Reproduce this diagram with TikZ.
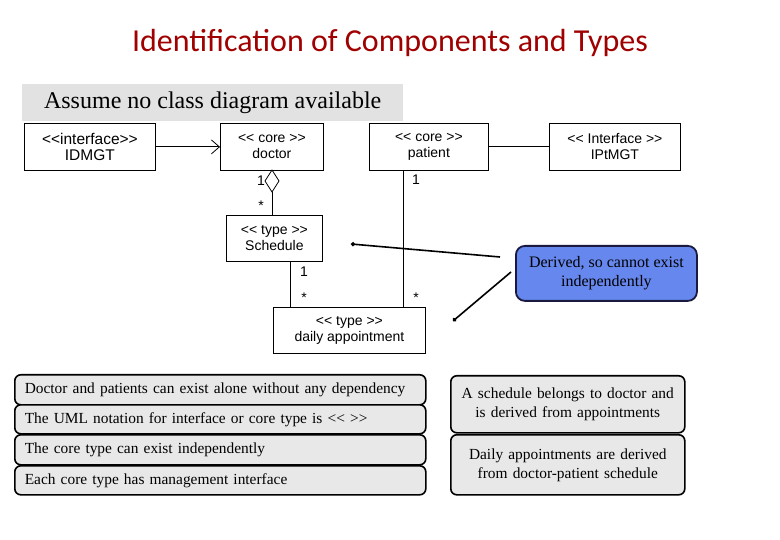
\documentclass[tikz,border=0pt]{standalone}
\usepackage{fontspec}
\setmainfont{Liberation Serif}
\newfontfamily\umlfont{Liberation Sans}
\newfontfamily\titlefont{Carlito}
\usetikzlibrary{arrows.meta,calc}
\definecolor{titlered}{HTML}{A00000}
\definecolor{calloutblue}{HTML}{6688EE}
\definecolor{navy}{HTML}{1A1A40}
\definecolor{notegray}{HTML}{E8E8E8}
\definecolor{bannergray}{HTML}{E2E2E2}
\begin{document}
\begin{tikzpicture}[x=1pt,y=-1pt,
  uml/.style={draw, line width=0.8pt, fill=white, font=\umlfont\fontsize{14}{16}\selectfont, align=center, inner sep=0pt, anchor=north west},
  mult/.style={font=\umlfont\fontsize{14}{15}\selectfont, inner sep=0pt},
  note/.style={draw, line width=1.6pt, rounded corners=6pt, fill=notegray, font=\fontsize{15.4}{19}\selectfont, inner ysep=0pt, anchor=north west},
  leftnote/.style={note, text width=391pt, inner xsep=10pt, align=left},
  rightnote/.style={note, text width=224pt, inner xsep=5pt, align=center},
  conn/.style={line width=0.8pt},
  pointer/.style={line width=1.6pt, -{Circle[length=4pt]}}]
\useasboundingbox (0,0) rectangle (780,540);
\fill[white] (0,0) rectangle (780,540);

% title and banner
\node[font=\titlefont\fontsize{32}{36}\selectfont, text=titlered] (title) at (390,43) {Identification of Components and Types};
\node[fill=bannergray, minimum width=381pt, minimum height=37pt, inner sep=0pt, anchor=north west, font=\fontsize{24}{26}\selectfont] (assume) at (22,84) {Assume no class diagram available};

% UML boxes
\node[uml, minimum width=131pt, minimum height=47pt, font=\umlfont\fontsize{15.5}{16}\selectfont] (idmgt) at (24,123) {<{}<interface>{}>\\IDMGT};
\node[uml, minimum width=103pt, minimum height=47pt] (doctor) at (220,123) {<{}< core >{}>\\doctor};
\node[uml, minimum width=119pt, minimum height=47pt] (patient) at (369,123) {<{}< core >{}>\\patient};
\node[uml, minimum width=131pt, minimum height=47pt] (iptmgt) at (549,123) {<{}< Interface >{}>\\IPtMGT};
\node[uml, minimum width=96pt, minimum height=46pt] (sched) at (226,215) {<{}< type >{}>\\Schedule};
\node[uml, minimum width=152pt, minimum height=46pt] (daily) at (273,307) {<{}< type >{}>\\daily appointment};

% connectors
\draw[conn, -{Straight Barb[length=8pt,width=14pt,line width=0.8pt]}] (idmgt.east) -- (doctor.west);
\draw[conn] (patient.east) -- (iptmgt.west);

% aggregation diamond
\coordinate (diatop) at (272,170);
\coordinate (diabot) at (272,192);
\draw[conn, fill=white] (diatop) -- (279,181) -- (diabot) -- (265,181) -- cycle;
\draw[conn] (diabot) -- (diabot |- sched.north);
\node[mult] (m1) at (261,181) {1};
\node[mult] (m2) at (261,206) {*};

% schedule -> daily
\coordinate (sx) at (290,0);
\draw[conn] (sched.south -| sx) -- (daily.north -| sx);
\node[mult] (m3) at (304,272) {1};
\node[mult] (m4) at (304,298) {*};

% patient -> daily
\coordinate (px) at (403,0);
\draw[conn] (patient.south -| px) -- (daily.north -| px);
\node[mult] (m5) at (416,180) {1};
\node[mult] (m6) at (416,298) {*};

% callout
\node[draw=navy, line width=1.8pt, fill=calloutblue, rounded corners=9pt, minimum width=181pt, minimum height=55pt, inner sep=0pt, align=center, anchor=north west, font=\fontsize{16}{19}\selectfont] (callout) at (515,245) {Derived, so cannot exist\\independently};
\coordinate (p1s) at (500,257);
\coordinate (p1e) at (351,244);
\coordinate (p2s) at (511,272);
\coordinate (p2e) at (453,321);
\draw[pointer] (p1s) -- (p1e);
\draw[pointer] (p2s) -- (p2e);

% left notes
\node[leftnote, minimum height=30pt] (n1) at (14,374) {Doctor and patients can exist alone without any dependency};
\node[leftnote, minimum height=29pt] (n2) at (14,404) {The UML notation for interface or core type is <{}< >{}>};
\node[leftnote, minimum height=30pt] (n3) at (14,434) {The core type can exist independently};
\node[leftnote, minimum height=29pt] (n4) at (14,465) {Each core type has management interface};

% right notes
\node[rightnote, minimum height=57pt] (r1) at (450,375) {A schedule belongs to doctor and\\is derived from appointments};
\node[rightnote, minimum height=60pt] (r2) at (450,434) {Daily appointments are derived\\from doctor-patient schedule};
\end{tikzpicture}
\end{document}
